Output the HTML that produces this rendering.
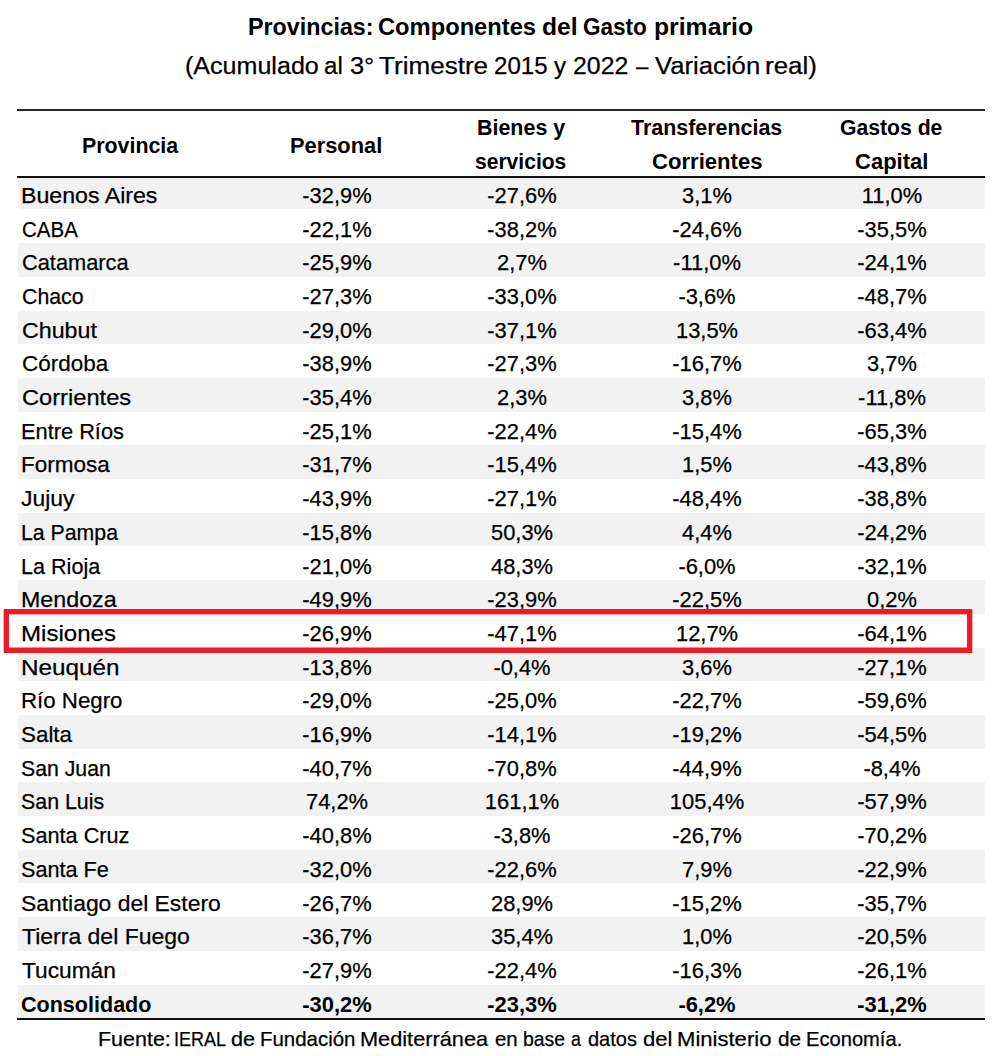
<!DOCTYPE html>
<html lang="es">
<head>
<meta charset="utf-8">
<title>Provincias: Componentes del Gasto primario</title>
<style>
html,body{margin:0;padding:0;background:#fff;}
body{width:1000px;height:1056px;position:relative;overflow:hidden;font-family:"Liberation Sans",sans-serif;color:#000;}
h1,p,div{margin:0;padding:0;font-weight:normal;}
.t{position:absolute;white-space:nowrap;line-height:1;transform-origin:0 0;display:block;}
.n{position:absolute;white-space:nowrap;line-height:1;display:block;}
.title{font-size:23px;font-weight:bold;}
.sub{font-size:23px;-webkit-text-stroke:0.25px #000;}
.foot{font-size:20.6px;-webkit-text-stroke:0.25px #000;}
.head{font-size:22px;font-weight:bold;}
.r{font-size:22px;-webkit-text-stroke:0.25px #000;}
.tot{font-weight:bold;-webkit-text-stroke:0;}
.bg{position:absolute;left:18px;width:967px;display:block;}
.g .bg{background:#f2f2f2;}
.rule{position:absolute;left:17px;width:968px;height:2px;background:#111;}
#box{position:absolute;left:4px;top:609px;width:958px;height:34px;border:5px solid #ed1c24;box-shadow:inset 0 1px 0 0 rgba(237,28,36,.4),inset 0 -1px 0 0 rgba(237,28,36,.5),-1px 0 0 0 rgba(237,28,36,.35),1px 0 0 0 rgba(237,28,36,.35);}
</style>
</head>
<body>

<h1 class="title">
<span class="t" style="left:248.01px;top:16px;transform:scaleX(1.0127)">Provincias: </span>
<span class="t" style="left:377.85px;top:16px;transform:scaleX(1.0306)">Componentes </span>
<span class="t" style="left:542.00px;top:16px;transform:scaleX(1.0725)">del </span>
<span class="t" style="left:583.40px;top:16px;transform:scaleX(0.9802)">Gasto </span>
<span class="t" style="left:654.30px;top:16px;transform:scaleX(1.0760)">primario</span>
</h1>
<p class="sub">
<span class="t" style="left:184.80px;top:55px;transform:scaleX(1.0900)">(Acumulado </span>
<span class="t" style="left:324.39px;top:55px;transform:scaleX(1.0480)">al </span>
<span class="t" style="left:350.08px;top:55px;transform:scaleX(1.1038)">3° </span>
<span class="t" style="left:379.39px;top:55px;transform:scaleX(1.1337)">Trimestre </span>
<span class="t" style="left:494.19px;top:55px;transform:scaleX(1.0470)">2015 </span>
<span class="t" style="left:553.87px;top:55px;transform:scaleX(1.0437)">y </span>
<span class="t" style="left:573.15px;top:55px;transform:scaleX(1.0799)">2022 </span>
<span class="t" style="left:635.63px;top:55px;transform:scaleX(0.9656)">– </span>
<span class="t" style="left:654.61px;top:55px;transform:scaleX(1.1167)">Variación </span>
<span class="t" style="left:765.22px;top:55px;transform:scaleX(1.1265)">real)</span>
</p>
<div class="rule" style="top:109px;background:#262626"></div>
<div class="head">
<span class="t" style="left:81.55px;top:135px;transform:scaleX(0.9706)">Provincia </span>
<span class="t" style="left:289.76px;top:135px;transform:scaleX(0.9926)">Personal </span>
<span class="t" style="left:476.54px;top:117px;transform:scaleX(0.9747)">Bienes y </span>
<span class="t" style="left:475.18px;top:151px;transform:scaleX(0.9573)">servicios </span>
<span class="t" style="left:630.94px;top:117px;transform:scaleX(0.9736)">Transferencias </span>
<span class="t" style="left:651.91px;top:151px;transform:scaleX(1.0038)">Corrientes </span>
<span class="t" style="left:840.20px;top:117px;transform:scaleX(0.9627)">Gastos de </span>
<span class="t" style="left:855.16px;top:151px;transform:scaleX(1.0001)">Capital </span>
</div>
<div class="r g">
<i class="bg" style="top:175.8px;height:33.7px"></i>
<span class="t" style="left:21.15px;top:185px;transform:scaleX(1.0525)">Buenos Aires </span>
<span class="n" style="left:336.6px;top:185px;transform:translateX(-50%) scaleX(0.9954)">-32,9% </span>
<span class="n" style="left:521.6px;top:185px;transform:translateX(-50%) scaleX(0.9954)">-27,6% </span>
<span class="n" style="left:706.8px;top:185px;transform:translateX(-50%) scaleX(0.9954)">3,1% </span>
<span class="n" style="left:891.7px;top:185px;transform:translateX(-50%) scaleX(0.9954)">11,0% </span>
</div>
<div class="r">
<i class="bg" style="top:209.5px;height:33.7px"></i>
<span class="t" style="left:21.86px;top:219px;transform:scaleX(0.9317)">CABA </span>
<span class="n" style="left:336.6px;top:219px;transform:translateX(-50%) scaleX(0.9954)">-22,1% </span>
<span class="n" style="left:521.6px;top:219px;transform:translateX(-50%) scaleX(0.9954)">-38,2% </span>
<span class="n" style="left:706.8px;top:219px;transform:translateX(-50%) scaleX(0.9954)">-24,6% </span>
<span class="n" style="left:891.7px;top:219px;transform:translateX(-50%) scaleX(0.9954)">-35,5% </span>
</div>
<div class="r g">
<i class="bg" style="top:243.2px;height:33.7px"></i>
<span class="t" style="left:21.79px;top:252px;transform:scaleX(0.9910)">Catamarca </span>
<span class="n" style="left:336.6px;top:252px;transform:translateX(-50%) scaleX(0.9954)">-25,9% </span>
<span class="n" style="left:521.6px;top:252px;transform:translateX(-50%) scaleX(0.9954)">2,7% </span>
<span class="n" style="left:706.8px;top:252px;transform:translateX(-50%) scaleX(0.9954)">-11,0% </span>
<span class="n" style="left:891.7px;top:252px;transform:translateX(-50%) scaleX(0.9954)">-24,1% </span>
</div>
<div class="r">
<i class="bg" style="top:276.9px;height:33.7px"></i>
<span class="t" style="left:21.82px;top:286px;transform:scaleX(0.9692)">Chaco </span>
<span class="n" style="left:336.6px;top:286px;transform:translateX(-50%) scaleX(0.9954)">-27,3% </span>
<span class="n" style="left:521.6px;top:286px;transform:translateX(-50%) scaleX(0.9954)">-33,0% </span>
<span class="n" style="left:706.8px;top:286px;transform:translateX(-50%) scaleX(0.9954)">-3,6% </span>
<span class="n" style="left:891.7px;top:286px;transform:translateX(-50%) scaleX(0.9954)">-48,7% </span>
</div>
<div class="r g">
<i class="bg" style="top:310.6px;height:33.7px"></i>
<span class="t" style="left:21.71px;top:320px;transform:scaleX(1.0556)">Chubut </span>
<span class="n" style="left:336.6px;top:320px;transform:translateX(-50%) scaleX(0.9954)">-29,0% </span>
<span class="n" style="left:521.6px;top:320px;transform:translateX(-50%) scaleX(0.9954)">-37,1% </span>
<span class="n" style="left:706.8px;top:320px;transform:translateX(-50%) scaleX(0.9954)">13,5% </span>
<span class="n" style="left:891.7px;top:320px;transform:translateX(-50%) scaleX(0.9954)">-63,4% </span>
</div>
<div class="r">
<i class="bg" style="top:344.3px;height:33.7px"></i>
<span class="t" style="left:21.75px;top:353px;transform:scaleX(1.0210)">Córdoba </span>
<span class="n" style="left:336.6px;top:353px;transform:translateX(-50%) scaleX(0.9954)">-38,9% </span>
<span class="n" style="left:521.6px;top:353px;transform:translateX(-50%) scaleX(0.9954)">-27,3% </span>
<span class="n" style="left:706.8px;top:353px;transform:translateX(-50%) scaleX(0.9954)">-16,7% </span>
<span class="n" style="left:891.7px;top:353px;transform:translateX(-50%) scaleX(0.9954)">3,7% </span>
</div>
<div class="r g">
<i class="bg" style="top:378.0px;height:33.7px"></i>
<span class="t" style="left:21.69px;top:387px;transform:scaleX(1.0753)">Corrientes </span>
<span class="n" style="left:336.6px;top:387px;transform:translateX(-50%) scaleX(0.9954)">-35,4% </span>
<span class="n" style="left:521.6px;top:387px;transform:translateX(-50%) scaleX(0.9954)">2,3% </span>
<span class="n" style="left:706.8px;top:387px;transform:translateX(-50%) scaleX(0.9954)">3,8% </span>
<span class="n" style="left:891.7px;top:387px;transform:translateX(-50%) scaleX(0.9954)">-11,8% </span>
</div>
<div class="r">
<i class="bg" style="top:411.7px;height:33.7px"></i>
<span class="t" style="left:21.27px;top:421px;transform:scaleX(0.9903)">Entre Ríos </span>
<span class="n" style="left:336.6px;top:421px;transform:translateX(-50%) scaleX(0.9954)">-25,1% </span>
<span class="n" style="left:521.6px;top:421px;transform:translateX(-50%) scaleX(0.9954)">-22,4% </span>
<span class="n" style="left:706.8px;top:421px;transform:translateX(-50%) scaleX(0.9954)">-15,4% </span>
<span class="n" style="left:891.7px;top:421px;transform:translateX(-50%) scaleX(0.9954)">-65,3% </span>
</div>
<div class="r g">
<i class="bg" style="top:445.4px;height:33.7px"></i>
<span class="t" style="left:21.20px;top:454px;transform:scaleX(1.0242)">Formosa </span>
<span class="n" style="left:336.6px;top:454px;transform:translateX(-50%) scaleX(0.9954)">-31,7% </span>
<span class="n" style="left:521.6px;top:454px;transform:translateX(-50%) scaleX(0.9954)">-15,4% </span>
<span class="n" style="left:706.8px;top:454px;transform:translateX(-50%) scaleX(0.9954)">1,5% </span>
<span class="n" style="left:891.7px;top:454px;transform:translateX(-50%) scaleX(0.9954)">-43,8% </span>
</div>
<div class="r">
<i class="bg" style="top:479.1px;height:33.7px"></i>
<span class="t" style="left:21.45px;top:488px;transform:scaleX(1.0416)">Jujuy </span>
<span class="n" style="left:336.6px;top:488px;transform:translateX(-50%) scaleX(0.9954)">-43,9% </span>
<span class="n" style="left:521.6px;top:488px;transform:translateX(-50%) scaleX(0.9954)">-27,1% </span>
<span class="n" style="left:706.8px;top:488px;transform:translateX(-50%) scaleX(0.9954)">-48,4% </span>
<span class="n" style="left:891.7px;top:488px;transform:translateX(-50%) scaleX(0.9954)">-38,8% </span>
</div>
<div class="r g">
<i class="bg" style="top:512.8px;height:33.7px"></i>
<span class="t" style="left:21.32px;top:522px;transform:scaleX(0.9672)">La Pampa </span>
<span class="n" style="left:336.6px;top:522px;transform:translateX(-50%) scaleX(0.9954)">-15,8% </span>
<span class="n" style="left:521.6px;top:522px;transform:translateX(-50%) scaleX(0.9954)">50,3% </span>
<span class="n" style="left:706.8px;top:522px;transform:translateX(-50%) scaleX(0.9954)">4,4% </span>
<span class="n" style="left:891.7px;top:522px;transform:translateX(-50%) scaleX(0.9954)">-24,2% </span>
</div>
<div class="r">
<i class="bg" style="top:546.5px;height:33.7px"></i>
<span class="t" style="left:21.29px;top:556px;transform:scaleX(0.9816)">La Rioja </span>
<span class="n" style="left:336.6px;top:556px;transform:translateX(-50%) scaleX(0.9954)">-21,0% </span>
<span class="n" style="left:521.6px;top:556px;transform:translateX(-50%) scaleX(0.9954)">48,3% </span>
<span class="n" style="left:706.8px;top:556px;transform:translateX(-50%) scaleX(0.9954)">-6,0% </span>
<span class="n" style="left:891.7px;top:556px;transform:translateX(-50%) scaleX(0.9954)">-32,1% </span>
</div>
<div class="r g">
<i class="bg" style="top:580.2px;height:33.7px"></i>
<span class="t" style="left:21.14px;top:589px;transform:scaleX(1.0568)">Mendoza </span>
<span class="n" style="left:336.6px;top:589px;transform:translateX(-50%) scaleX(0.9954)">-49,9% </span>
<span class="n" style="left:521.6px;top:589px;transform:translateX(-50%) scaleX(0.9954)">-23,9% </span>
<span class="n" style="left:706.8px;top:589px;transform:translateX(-50%) scaleX(0.9954)">-22,5% </span>
<span class="n" style="left:891.7px;top:589px;transform:translateX(-50%) scaleX(0.9954)">0,2% </span>
</div>
<div class="r">
<i class="bg" style="top:613.9px;height:33.7px"></i>
<span class="t" style="left:21.06px;top:623px;transform:scaleX(1.0938)">Misiones </span>
<span class="n" style="left:336.6px;top:623px;transform:translateX(-50%) scaleX(0.9954)">-26,9% </span>
<span class="n" style="left:521.6px;top:623px;transform:translateX(-50%) scaleX(0.9954)">-47,1% </span>
<span class="n" style="left:706.8px;top:623px;transform:translateX(-50%) scaleX(0.9954)">12,7% </span>
<span class="n" style="left:891.7px;top:623px;transform:translateX(-50%) scaleX(0.9954)">-64,1% </span>
</div>
<div class="r g">
<i class="bg" style="top:647.6px;height:33.7px"></i>
<span class="t" style="left:21.04px;top:657px;transform:scaleX(1.1039)">Neuquén </span>
<span class="n" style="left:336.6px;top:657px;transform:translateX(-50%) scaleX(0.9954)">-13,8% </span>
<span class="n" style="left:521.6px;top:657px;transform:translateX(-50%) scaleX(0.9954)">-0,4% </span>
<span class="n" style="left:706.8px;top:657px;transform:translateX(-50%) scaleX(0.9954)">3,6% </span>
<span class="n" style="left:891.7px;top:657px;transform:translateX(-50%) scaleX(0.9954)">-27,1% </span>
</div>
<div class="r">
<i class="bg" style="top:681.3px;height:33.7px"></i>
<span class="t" style="left:21.23px;top:690px;transform:scaleX(1.0114)">Río Negro </span>
<span class="n" style="left:336.6px;top:690px;transform:translateX(-50%) scaleX(0.9954)">-29,0% </span>
<span class="n" style="left:521.6px;top:690px;transform:translateX(-50%) scaleX(0.9954)">-25,0% </span>
<span class="n" style="left:706.8px;top:690px;transform:translateX(-50%) scaleX(0.9954)">-22,7% </span>
<span class="n" style="left:891.7px;top:690px;transform:translateX(-50%) scaleX(0.9954)">-59,6% </span>
</div>
<div class="r g">
<i class="bg" style="top:715.0px;height:33.7px"></i>
<span class="t" style="left:20.91px;top:724px;transform:scaleX(1.0177)">Salta </span>
<span class="n" style="left:336.6px;top:724px;transform:translateX(-50%) scaleX(0.9954)">-16,9% </span>
<span class="n" style="left:521.6px;top:724px;transform:translateX(-50%) scaleX(0.9954)">-14,1% </span>
<span class="n" style="left:706.8px;top:724px;transform:translateX(-50%) scaleX(0.9954)">-19,2% </span>
<span class="n" style="left:891.7px;top:724px;transform:translateX(-50%) scaleX(0.9954)">-54,5% </span>
</div>
<div class="r">
<i class="bg" style="top:748.7px;height:33.7px"></i>
<span class="t" style="left:20.97px;top:758px;transform:scaleX(0.9660)">San Juan </span>
<span class="n" style="left:336.6px;top:758px;transform:translateX(-50%) scaleX(0.9954)">-40,7% </span>
<span class="n" style="left:521.6px;top:758px;transform:translateX(-50%) scaleX(0.9954)">-70,8% </span>
<span class="n" style="left:706.8px;top:758px;transform:translateX(-50%) scaleX(0.9954)">-44,9% </span>
<span class="n" style="left:891.7px;top:758px;transform:translateX(-50%) scaleX(0.9954)">-8,4% </span>
</div>
<div class="r g">
<i class="bg" style="top:782.4px;height:33.7px"></i>
<span class="t" style="left:20.97px;top:791px;transform:scaleX(0.9711)">San Luis </span>
<span class="n" style="left:336.6px;top:791px;transform:translateX(-50%) scaleX(0.9954)">74,2% </span>
<span class="n" style="left:521.6px;top:791px;transform:translateX(-50%) scaleX(0.9954)">161,1% </span>
<span class="n" style="left:706.8px;top:791px;transform:translateX(-50%) scaleX(0.9954)">105,4% </span>
<span class="n" style="left:891.7px;top:791px;transform:translateX(-50%) scaleX(0.9954)">-57,9% </span>
</div>
<div class="r">
<i class="bg" style="top:816.1px;height:33.7px"></i>
<span class="t" style="left:20.95px;top:825px;transform:scaleX(0.9855)">Santa Cruz </span>
<span class="n" style="left:336.6px;top:825px;transform:translateX(-50%) scaleX(0.9954)">-40,8% </span>
<span class="n" style="left:521.6px;top:825px;transform:translateX(-50%) scaleX(0.9954)">-3,8% </span>
<span class="n" style="left:706.8px;top:825px;transform:translateX(-50%) scaleX(0.9954)">-26,7% </span>
<span class="n" style="left:891.7px;top:825px;transform:translateX(-50%) scaleX(0.9954)">-70,2% </span>
</div>
<div class="r g">
<i class="bg" style="top:849.8px;height:33.7px"></i>
<span class="t" style="left:20.95px;top:859px;transform:scaleX(0.9837)">Santa Fe </span>
<span class="n" style="left:336.6px;top:859px;transform:translateX(-50%) scaleX(0.9954)">-32,0% </span>
<span class="n" style="left:521.6px;top:859px;transform:translateX(-50%) scaleX(0.9954)">-22,6% </span>
<span class="n" style="left:706.8px;top:859px;transform:translateX(-50%) scaleX(0.9954)">7,9% </span>
<span class="n" style="left:891.7px;top:859px;transform:translateX(-50%) scaleX(0.9954)">-22,9% </span>
</div>
<div class="r">
<i class="bg" style="top:883.5px;height:33.7px"></i>
<span class="t" style="left:20.88px;top:893px;transform:scaleX(1.0403)">Santiago del Estero </span>
<span class="n" style="left:336.6px;top:893px;transform:translateX(-50%) scaleX(0.9954)">-26,7% </span>
<span class="n" style="left:521.6px;top:893px;transform:translateX(-50%) scaleX(0.9954)">28,9% </span>
<span class="n" style="left:706.8px;top:893px;transform:translateX(-50%) scaleX(0.9954)">-15,2% </span>
<span class="n" style="left:891.7px;top:893px;transform:translateX(-50%) scaleX(0.9954)">-35,7% </span>
</div>
<div class="r g">
<i class="bg" style="top:917.2px;height:33.7px"></i>
<span class="t" style="left:21.95px;top:926px;transform:scaleX(1.0451)">Tierra del Fuego </span>
<span class="n" style="left:336.6px;top:926px;transform:translateX(-50%) scaleX(0.9954)">-36,7% </span>
<span class="n" style="left:521.6px;top:926px;transform:translateX(-50%) scaleX(0.9954)">35,4% </span>
<span class="n" style="left:706.8px;top:926px;transform:translateX(-50%) scaleX(0.9954)">1,0% </span>
<span class="n" style="left:891.7px;top:926px;transform:translateX(-50%) scaleX(0.9954)">-20,5% </span>
</div>
<div class="r">
<i class="bg" style="top:950.9px;height:33.7px"></i>
<span class="t" style="left:21.95px;top:960px;transform:scaleX(1.0324)">Tucumán </span>
<span class="n" style="left:336.6px;top:960px;transform:translateX(-50%) scaleX(0.9954)">-27,9% </span>
<span class="n" style="left:521.6px;top:960px;transform:translateX(-50%) scaleX(0.9954)">-22,4% </span>
<span class="n" style="left:706.8px;top:960px;transform:translateX(-50%) scaleX(0.9954)">-16,3% </span>
<span class="n" style="left:891.7px;top:960px;transform:translateX(-50%) scaleX(0.9954)">-26,1% </span>
</div>
<div class="r g tot">
<i class="bg" style="top:984.6px;height:33.7px"></i>
<span class="t" style="left:21.13px;top:994px;transform:scaleX(0.9790)">Consolidado </span>
<span class="n" style="left:336.6px;top:994px;transform:translateX(-50%) scaleX(0.9954)">-30,2% </span>
<span class="n" style="left:521.6px;top:994px;transform:translateX(-50%) scaleX(0.9954)">-23,3% </span>
<span class="n" style="left:706.8px;top:994px;transform:translateX(-50%) scaleX(0.9954)">-6,2% </span>
<span class="n" style="left:891.7px;top:994px;transform:translateX(-50%) scaleX(0.9954)">-31,2% </span>
</div>
<div class="rule" style="top:176px"></div>
<div class="rule" style="top:1018px"></div>
<div id="box"></div>
<p class="foot">
<span class="t" style="left:97.89px;top:1029px;transform:scaleX(1.0424)">Fuente: </span>
<span class="t" style="left:174.28px;top:1029px;transform:scaleX(0.8729)">IERAL </span>
<span class="t" style="left:231.36px;top:1029px;transform:scaleX(1.0515)">de </span>
<span class="t" style="left:260.49px;top:1029px;transform:scaleX(0.9921)">Fundación </span>
<span class="t" style="left:360.36px;top:1029px;transform:scaleX(1.0557)">Mediterránea </span>
<span class="t" style="left:495.03px;top:1029px;transform:scaleX(0.9910)">en </span>
<span class="t" style="left:523.27px;top:1029px;transform:scaleX(0.9416)">base </span>
<span class="t" style="left:571.06px;top:1029px;transform:scaleX(0.8667)">a </span>
<span class="t" style="left:588.05px;top:1029px;transform:scaleX(0.9712)">datos </span>
<span class="t" style="left:642.54px;top:1029px;transform:scaleX(1.0722)">del </span>
<span class="t" style="left:676.93px;top:1029px;transform:scaleX(1.0715)">Ministerio </span>
<span class="t" style="left:777.91px;top:1029px;transform:scaleX(1.0083)">de </span>
<span class="t" style="left:806.42px;top:1029px;transform:scaleX(0.9774)">Economía.</span>
</p>
</body>
</html>
